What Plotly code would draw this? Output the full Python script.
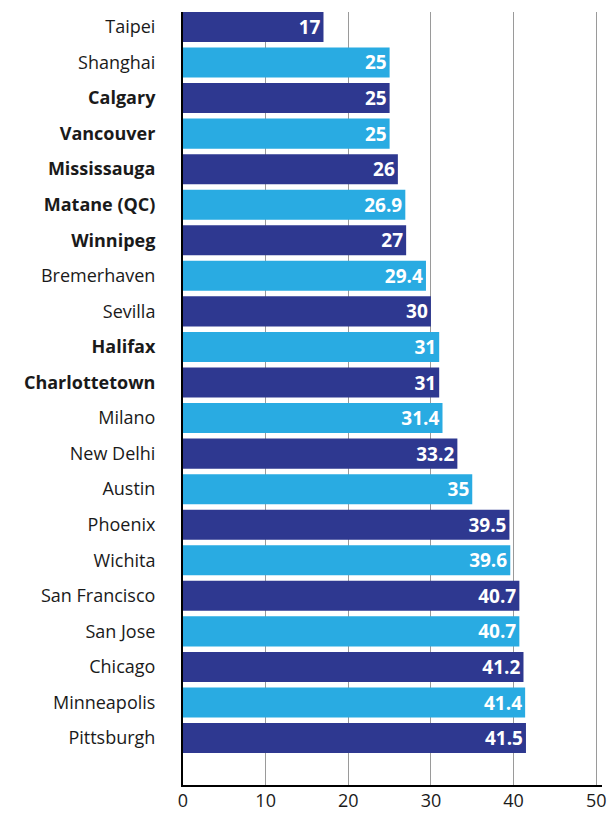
import plotly.graph_objects as go

# cities, top to bottom
cities = ["Taipei", "Shanghai", "Calgary", "Vancouver", "Mississauga", "Matane (QC)",
          "Winnipeg", "Bremerhaven", "Sevilla", "Halifax", "Charlottetown", "Milano",
          "New Delhi", "Austin", "Phoenix", "Wichita", "San Francisco", "San Jose",
          "Chicago", "Minneapolis", "Pittsburgh"]
values = [17, 25, 25, 25, 26, 26.9, 27, 29.4, 30, 31, 31, 31.4, 33.2, 35, 39.5,
          39.6, 40.7, 40.7, 41.2, 41.4, 41.5]
canadian = ["Calgary", "Vancouver", "Mississauga", "Matane (QC)", "Winnipeg",
            "Halifax", "Charlottetown"]
value_labels = ["17", "25", "25", "25", "26", "26.9", "27", "29.4", "30", "31", "31",
                "31.4", "33.2", "35", "39.5", "39.6", "40.7", "40.7", "41.2", "41.4", "41.5"]
x_ticks = [0, 10, 20, 30, 40, 50]

DARK = "#2e3890"
LIGHT = "#29abe2"
FONT = "Open Sans"

pos = list(range(len(cities)))
colors = [DARK if i % 2 == 0 else LIGHT for i in pos]
labels = ["<b>%s</b>" % c if c in canadian else c for c in cities]

fig = go.Figure()
fig.add_trace(go.Bar(
    x=values, y=pos, orientation="h",
    marker=dict(color=colors, line=dict(width=0)),
    text=["<b>%s</b>" % v for v in value_labels],
    textposition="inside", insidetextanchor="end", textangle=0,
    textfont=dict(family=FONT, size=19, color="white"),
    constraintext="none", cliponaxis=False,
    hoverinfo="skip",
))

fig.update_layout(
    width=610, height=813,
    margin=dict(l=183, r=8, t=12, b=28, autoexpand=False),
    paper_bgcolor="white", plot_bgcolor="white",
    bargap=0.155, showlegend=False,
    font=dict(family=FONT, size=18, color="#1a1a1a"),
)
fig.update_xaxes(
    range=[0, 50.7], tickvals=x_ticks, ticktext=[str(t) for t in x_ticks],
    showgrid=True, gridcolor="#9a9a9a", gridwidth=1,
    showline=True, linecolor="black", linewidth=2,
    zeroline=False, ticks="", tickfont=dict(size=18, color="#1a1a1a"),
    ticklabelstandoff=-2, automargin=False,
)
fig.update_yaxes(
    range=[21.32, -0.42], tickvals=pos, ticktext=labels,
    showgrid=False, showline=True, linecolor="black", linewidth=2,
    zeroline=False, ticks="", ticklabelstandoff=22, automargin=False,
    tickfont=dict(size=18, color="#1a1a1a"),
)

# drop the default page margin so the figure fills the window exactly
fig.write_html("out.html", config={"displayModeBar": False},
               post_script="document.body.style.margin='0px';")
